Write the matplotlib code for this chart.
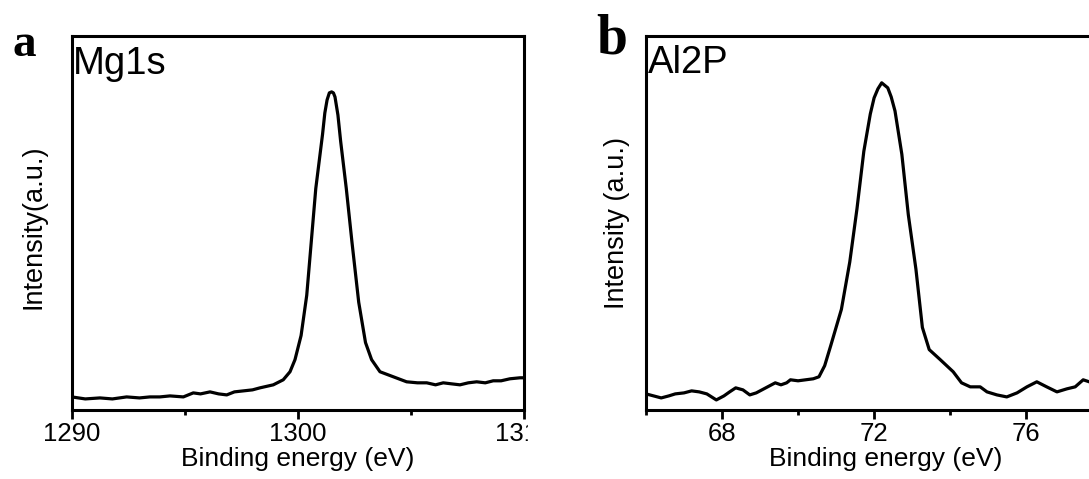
"""XPS core-level spectra: Mg1s and Al2P panels.

Output: out.png
"""

import matplotlib
matplotlib.use('Agg')
import matplotlib.pyplot as plt
from matplotlib.patches import Rectangle
from matplotlib.ticker import MultipleLocator

OUT_FILE = 'out.png'

# ---- panel a: Mg1s (binding energy eV, intensity a.u.) ----
mg_energy = [1290.0, 1290.6, 1291.25, 1291.8, 1292.43, 1293.0, 1293.46, 1293.9,
             1294.35, 1294.94, 1295.38, 1295.7, 1296.12, 1296.5, 1296.86, 1297.2,
             1297.6, 1298.0, 1298.33, 1298.92, 1299.36, 1299.66, 1299.88, 1300.15,
             1300.4, 1300.6, 1300.8, 1301.1, 1301.2, 1301.3, 1301.4, 1301.5, 1301.58,
             1301.65, 1301.78, 1301.9, 1302.15, 1302.4, 1302.7, 1303.0, 1303.27, 1303.64,
             1304.23, 1304.82, 1305.3, 1305.71, 1306.1, 1306.44, 1306.8, 1307.18,
             1307.55, 1307.92, 1308.3, 1308.65, 1309.0, 1309.39, 1309.84, 1310.0]
mg_counts = [13, 11, 12, 11, 13, 12, 13, 13,
             14, 13, 17, 16, 18, 16, 15, 18,
             19, 20, 22, 25, 30, 38, 50, 74,
             114, 167, 220, 274, 295, 308, 315, 316, 315,
             311, 293, 267, 220, 167, 107, 67, 50, 38,
             33, 28, 27, 27, 25, 27, 26, 25,
             27, 28, 27, 29, 29, 31, 32, 32]

# ---- panel b: Al2P ----
al_energy = [66.0, 66.2, 66.4, 66.6, 66.77, 67.0, 67.2, 67.4, 67.6, 67.85,
             68.05, 68.2, 68.36, 68.55, 68.73, 68.9, 69.05, 69.25, 69.4, 69.55,
             69.7, 69.8, 70.0, 70.2, 70.4, 70.55, 70.7, 70.86, 71.0, 71.14,
             71.36, 71.55, 71.73, 71.9, 72.0, 72.1, 72.2, 72.36, 72.45, 72.55,
             72.73, 72.9, 73.1, 73.27, 73.45, 73.74, 74.08, 74.3, 74.53, 74.79,
             74.97, 75.23, 75.49, 75.76, 76.02, 76.28, 76.54, 76.81, 77.07, 77.29,
             77.5, 77.66, 77.8]
al_counts = [16, 14, 12, 14, 16, 17, 19, 18, 16, 10,
             14, 18, 22, 20, 15, 17, 20, 24, 27, 25,
             27, 30, 29, 30, 31, 33, 44, 64, 82, 100,
             147, 200, 257, 294, 310, 319, 325, 320, 311, 297,
             254, 194, 140, 82, 60, 50, 38, 27, 23, 23,
             18, 15, 13, 17, 23, 28, 23, 18, 21, 23,
             30, 28, 27]

W, H = 1089, 479


def fx(px):
    return px / W


def fy(py):
    # pixel row measured from the top
    return (H - py) / H


def style_axis(ax, lw=2.2):
    for sp in ax.spines.values():
        sp.set_linewidth(lw)
    ax.tick_params(axis='x', which='major', direction='out', length=6.5, width=2,
                   labelsize=18.5, pad=2)
    ax.tick_params(axis='x', which='minor', direction='out', length=3.5, width=2)
    ax.tick_params(axis='y', which='both', left=False, labelleft=False)
    ax.set_ylim(0, 372)


def main():
    plt.rcParams['font.family'] = ['Liberation Sans', 'DejaVu Sans']
    fig = plt.figure(figsize=(W / 100, H / 100), dpi=100)

    top, bottom = 35.5, 410
    ax_a = fig.add_axes([fx(71.7), fy(bottom), fx(452), (bottom - top) / H])
    ax_b = fig.add_axes([fx(646), fy(bottom), fx(479), (bottom - top) / H])

    # a: Mg1s
    ax_a.plot(mg_energy, mg_counts, color='k', lw=2.3, solid_joinstyle='round')
    ax_a.set_xlim(1290, 1310)
    ax_a.xaxis.set_major_locator(MultipleLocator(10))
    ax_a.xaxis.set_minor_locator(MultipleLocator(5))
    style_axis(ax_a)
    ax_a.set_xlabel('Binding energy (eV)', fontsize=19, labelpad=1)
    ax_a.set_ylabel('Intensity(a.u.)', fontsize=19.5, va='center')
    ax_a.yaxis.set_label_coords((34 - 71.7) / 452, 0.49)

    # b: Al2P (right side runs past the figure edge, as in the source)
    ax_b.plot(al_energy, al_counts, color='k', lw=2.3, solid_joinstyle='round')
    ax_b.set_xlim(66, 78.6)
    ax_b.xaxis.set_major_locator(MultipleLocator(4))
    ax_b.xaxis.set_minor_locator(MultipleLocator(2))
    style_axis(ax_b)
    ax_b.set_xlabel('Binding energy (eV)', fontsize=19, labelpad=1)
    ax_b.set_ylabel('Intensity (a.u.)', fontsize=19.5, va='center')
    ax_b.yaxis.set_label_coords((617 - 646) / 479, 0.5)

    # panel letters and element labels
    fig.text(fx(12), fy(56), 'a', fontsize=34, fontweight='bold',
             family='Liberation Serif', va='baseline')
    fig.text(fx(596), fy(54), 'b', fontsize=40, fontweight='bold',
             family='Liberation Serif', va='baseline')
    fig.text(fx(73), fy(74), 'Mg1s', fontsize=27.5, va='baseline')
    fig.text(fx(648), fy(73), 'Al2P', fontsize=27.5, va='baseline')

    # the source image is cut just after "13" of the 1310 label
    fig.add_artist(Rectangle((fx(528), fy(448)), fx(40), 33 / H,
                             transform=fig.transFigure, color='white',
                             zorder=10))

    fig.savefig(OUT_FILE, dpi=100)
    print(f'Saved: {OUT_FILE}')


if __name__ == '__main__':
    main()
